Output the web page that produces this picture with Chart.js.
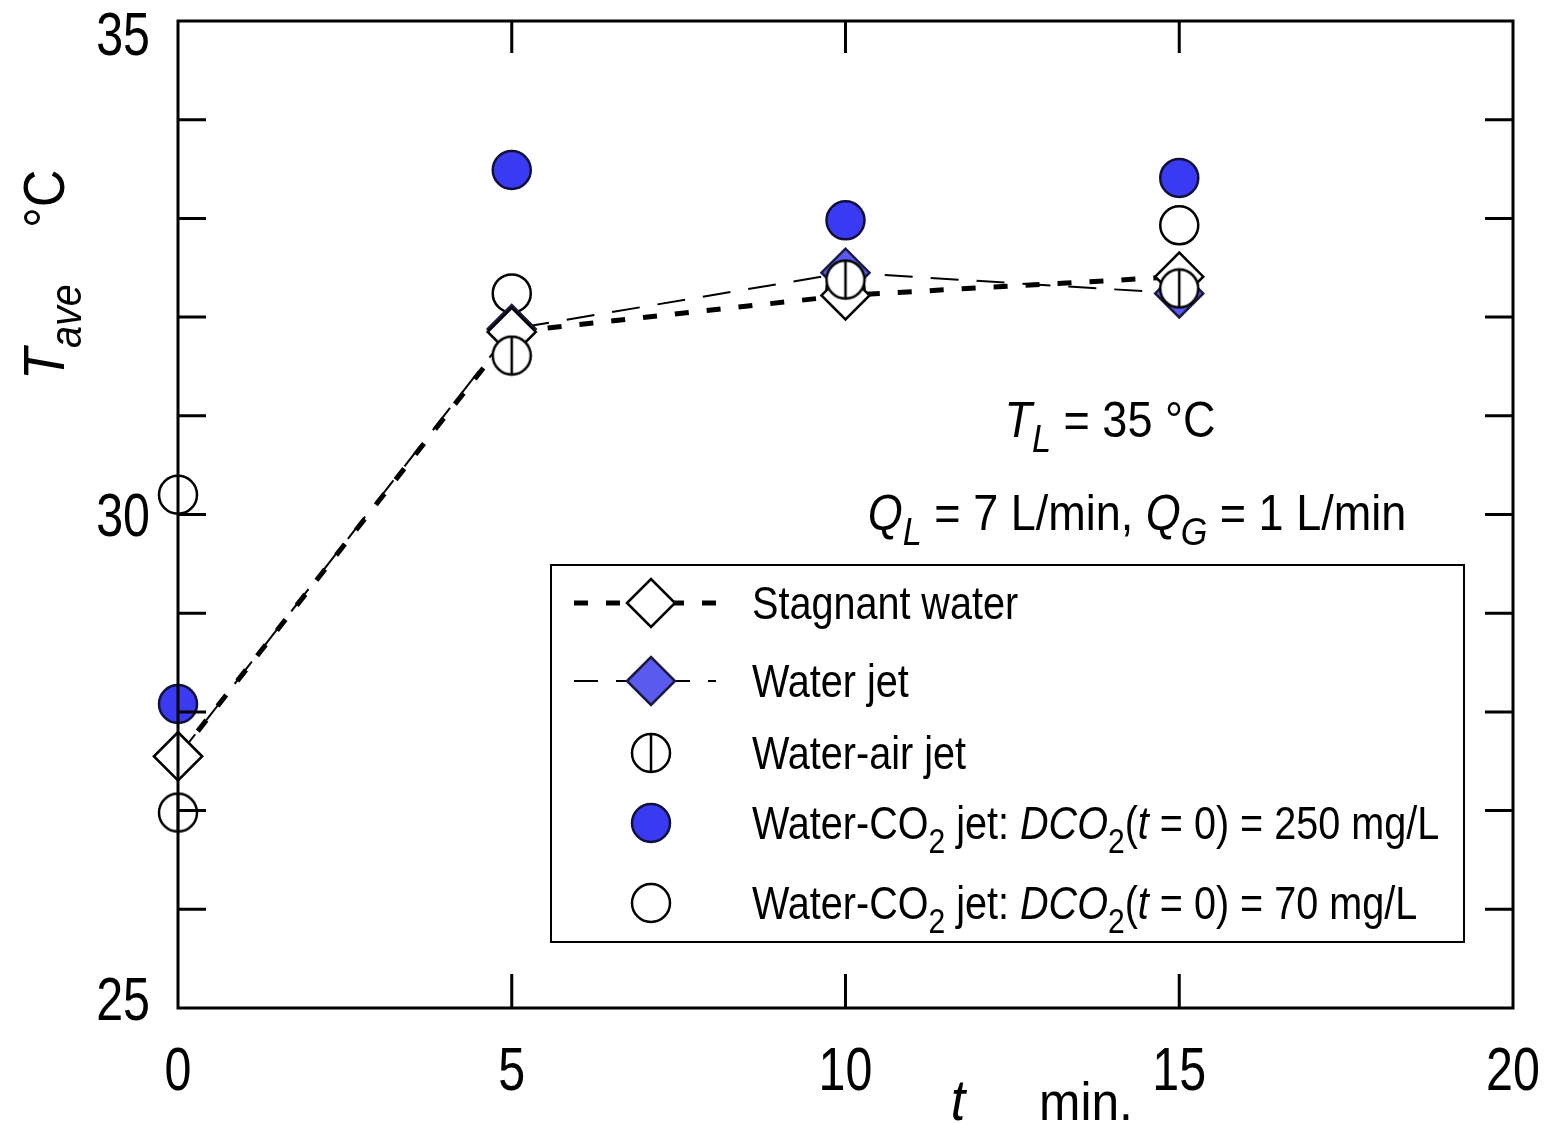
<!DOCTYPE html>
<html>
<head>
<meta charset="utf-8">
<script src="https://cdn.jsdelivr.net/npm/chart.js@4.4.0/dist/chart.umd.min.js"></script>
<style>
  html, body { margin: 0; padding: 0; background: #fff; }
  #wrap { width: 1544px; height: 1125px; }
</style>
</head>
<body>
<div id="wrap"><canvas id="tempChart"></canvas></div>
<script>
const FONT = "'Liberation Sans', Arial, sans-serif";

// data (t in min, T_ave in degC)
const times = [0, 5, 10, 15];
const stagnantWater = [27.55, 31.85, 32.22, 32.41];
const waterJet = [27.55, 31.88, 32.45, 32.24];
const waterAirJet = [26.98, 31.61, 32.38, 32.29];
const co2Jet250 = [28.08, 33.49, 32.98, 33.41];
const co2Jet70 = [30.2, 32.24, 32.28, 32.93];

const xTicks = [0, 5, 10, 15, 20];
const yLabelled = [25, 30, 35];

const BLUE = "#3a3af2";
const BLUE_LIGHT = "#5a5aee";

function pts(ys) {
  return times.map((t, i) => ({ x: t, y: ys[i] }));
}

// circle with vertical bar for the water-air jet
function makeBarCircle(r) {
  const c = document.createElement("canvas");
  const s = Math.ceil(2 * r + 4);
  c.width = s; c.height = s;
  const g = c.getContext("2d");
  g.lineWidth = 2.5;
  g.strokeStyle = "#000";
  g.fillStyle = "#fff";
  g.beginPath();
  g.arc(s / 2, s / 2, r, 0, Math.PI * 2);
  g.fill();
  g.stroke();
  g.beginPath();
  g.moveTo(s / 2, s / 2 - r);
  g.lineTo(s / 2, s / 2 + r);
  g.stroke();
  return c;
}
const barCircle = makeBarCircle(19);

// condensed text made of runs: {t, it (italic), sub}
function drawRuns(ctx, runs, x, y, size, align, sx) {
  sx = sx || 0.84;
  const fontOf = r => (r.it ? "italic " : "") + (r.sub ? Math.round(size * 0.75) : size) + "px " + FONT;
  const widths = runs.map(r => { ctx.font = fontOf(r); return ctx.measureText(r.t).width * sx; });
  const total = widths.reduce((a, b) => a + b, 0);
  let cx = x;
  if (align === "center") cx = x - total / 2;
  if (align === "right") cx = x - total;
  ctx.textBaseline = "alphabetic";
  ctx.textAlign = "left";
  runs.forEach((r, i) => {
    ctx.font = fontOf(r);
    ctx.save();
    ctx.translate(cx, r.sub ? y + size * 0.3 : y);
    ctx.scale(sx, 1);
    ctx.fillText(r.t, 0, 0);
    ctx.restore();
    cx += widths[i];
  });
}

const legendRows = [
  { runs: [{ t: "Stagnant water" }] },
  { runs: [{ t: "Water jet" }] },
  { runs: [{ t: "Water-air jet" }] },
  { runs: [{ t: "Water-CO" }, { t: "2", sub: true }, { t: " jet: " }, { t: "DCO", it: true }, { t: "2", sub: true }, { t: "(" }, { t: "t", it: true }, { t: " = 0) = 250 mg/L" }] },
  { runs: [{ t: "Water-CO" }, { t: "2", sub: true }, { t: " jet: " }, { t: "DCO", it: true }, { t: "2", sub: true }, { t: "(" }, { t: "t", it: true }, { t: " = 0) = 70 mg/L" }] }
];

const decorPlugin = {
  id: "decor",
  afterDraw(chart) {
    const ctx = chart.ctx;
    const a = chart.chartArea;
    const xs = chart.scales.x, ys = chart.scales.y;
    ctx.save();
    ctx.strokeStyle = "#000";
    ctx.fillStyle = "#000";
    ctx.lineWidth = 3;
    ctx.strokeRect(a.left, a.top, a.right - a.left, a.bottom - a.top);

    // inward ticks
    ctx.beginPath();
    for (let v = 26; v < 35; v++) {
      const py = ys.getPixelForValue(v);
      ctx.moveTo(a.left, py); ctx.lineTo(a.left + 28, py);
      ctx.moveTo(a.right, py); ctx.lineTo(a.right - 28, py);
    }
    [5, 10, 15].forEach(v => {
      const px = xs.getPixelForValue(v);
      ctx.moveTo(px, a.top); ctx.lineTo(px, a.top + 32);
      ctx.moveTo(px, a.bottom); ctx.lineTo(px, a.bottom - 34);
    });
    ctx.stroke();

    // tick labels
    xTicks.forEach(v => {
      drawRuns(ctx, [{ t: String(v) }], xs.getPixelForValue(v), 1090, 62, "center", 0.78);
    });
    yLabelled.forEach(v => {
      let py = ys.getPixelForValue(v) + 21;
      if (v === 35) py = 55;
      if (v === 25) py = 1020;
      drawRuns(ctx, [{ t: String(v) }], 150, py, 62, "right", 0.78);
    });

    // annotations
    drawRuns(ctx, [{ t: "T", it: true }, { t: "L", it: true, sub: true }, { t: " = 35 °C" }], 1110, 437, 50, "center", 0.9);
    drawRuns(ctx, [{ t: "Q", it: true }, { t: "L", it: true, sub: true }, { t: " = 7 L/min, " }, { t: "Q", it: true }, { t: "G", it: true, sub: true }, { t: " = 1 L/min" }], 1137, 530, 50, "center", 0.9);

    // axis titles
    drawRuns(ctx, [{ t: "t", it: true }], 958, 1120, 58, "center", 0.9);
    drawRuns(ctx, [{ t: "min." }], 1086, 1120, 54, "center", 0.92);

    ctx.save();
    ctx.translate(64, 380);
    ctx.rotate(-Math.PI / 2);
    drawRuns(ctx, [{ t: "T", it: true }, { t: "ave", it: true, sub: true }], 0, 0, 58, "left", 0.9);
    drawRuns(ctx, [{ t: "°C" }], 152, 0, 58, "left", 0.9);
    ctx.restore();

    // legend box
    const L = { left: 551, top: 565, right: 1464, bottom: 942 };
    ctx.lineWidth = 2;
    ctx.fillStyle = "#fff";
    ctx.fillRect(L.left, L.top, L.right - L.left, L.bottom - L.top);
    ctx.strokeRect(L.left, L.top, L.right - L.left, L.bottom - L.top);
    const rowY = [603, 681, 753, 823, 903];
    const sx = 651;
    rowY.forEach((y, i) => {
      const ds = chart.data.datasets[i];
      if (ds.showLine) {
        ctx.save();
        ctx.strokeStyle = "#000";
        ctx.lineWidth = ds.borderWidth;
        ctx.setLineDash(ds.borderDash);
        ctx.lineDashOffset = ds.legendDashOffset;
        ctx.beginPath();
        ctx.moveTo(574, y); ctx.lineTo(716, y);
        ctx.stroke();
        ctx.restore();
      }
      const o = chart.getDatasetMeta(i).data[0].options;
      ctx.save();
      ctx.fillStyle = o.backgroundColor;
      ctx.strokeStyle = o.borderColor;
      ctx.lineWidth = o.borderWidth;
      Chart.helpers.drawPoint(ctx, {
        pointStyle: o.pointStyle, radius: o.radius, rotation: 0,
        borderWidth: o.borderWidth
      }, sx, y);
      ctx.restore();
      ctx.fillStyle = "#000";
      drawRuns(ctx, legendRows[i].runs, 752, y + 16, 46, "left", 0.86);
    });
    ctx.restore();
  }
};

new Chart(document.getElementById("tempChart"), {
  type: "scatter",
  data: {
    datasets: [
      {
        label: "Stagnant water",
        data: pts(stagnantWater),
        showLine: true,
        clip: false,
        borderColor: "#000",
        borderWidth: 5,
        borderDash: [14, 18],
        legendDashOffset: 0,
        pointStyle: "rectRot",
        pointRadius: 24,
        pointBackgroundColor: "#fff",
        pointBorderColor: "#000",
        pointBorderWidth: 2.5,
        order: 1
      },
      {
        label: "Water jet",
        data: pts(waterJet),
        showLine: true,
        clip: false,
        borderColor: "#000",
        borderWidth: 2,
        borderDash: [28, 18],
        legendDashOffset: 4,
        pointStyle: "rectRot",
        pointRadius: 24,
        pointBackgroundColor: BLUE_LIGHT,
        pointBorderColor: "#1a1a40",
        pointBorderWidth: 2.5,
        order: 2
      },
      {
        label: "Water-air jet",
        data: pts(waterAirJet),
        showLine: false,
        clip: false,
        pointStyle: barCircle,
        pointRadius: 19,
        order: 0
      },
      {
        label: "Water-CO2 jet 250",
        data: pts(co2Jet250),
        showLine: false,
        clip: false,
        pointStyle: "circle",
        pointRadius: 19,
        pointBackgroundColor: BLUE,
        pointBorderColor: "#10103a",
        pointBorderWidth: 2.5,
        order: 3
      },
      {
        label: "Water-CO2 jet 70",
        data: pts(co2Jet70),
        showLine: false,
        clip: false,
        pointStyle: "circle",
        pointRadius: 19,
        pointBackgroundColor: "#fff",
        pointBorderColor: "#000",
        pointBorderWidth: 2.5,
        order: 4
      }
    ]
  },
  options: {
    responsive: true,
    maintainAspectRatio: false,
    animation: false,
    layout: { autoPadding: false, padding: { left: 0, top: 21, right: 31, bottom: 0 } },
    plugins: { legend: { display: false }, tooltip: { enabled: false } },
    elements: { line: { tension: 0 } },
    scales: {
      x: {
        type: "linear", min: 0, max: 20,
        afterBuildTicks: s => { s.ticks = xTicks.map(v => ({ value: v })); },
        afterFit: s => { s.height = 117; },
        grid: { display: false, drawTicks: false },
        border: { display: false },
        ticks: { display: false }
      },
      y: {
        type: "linear", min: 25, max: 35,
        afterBuildTicks: s => { s.ticks = yLabelled.map(v => ({ value: v })); },
        afterFit: s => { s.width = 178; },
        grid: { display: false, drawTicks: false },
        border: { display: false },
        ticks: { display: false }
      }
    }
  },
  plugins: [decorPlugin]
});
</script>
</body>
</html>
